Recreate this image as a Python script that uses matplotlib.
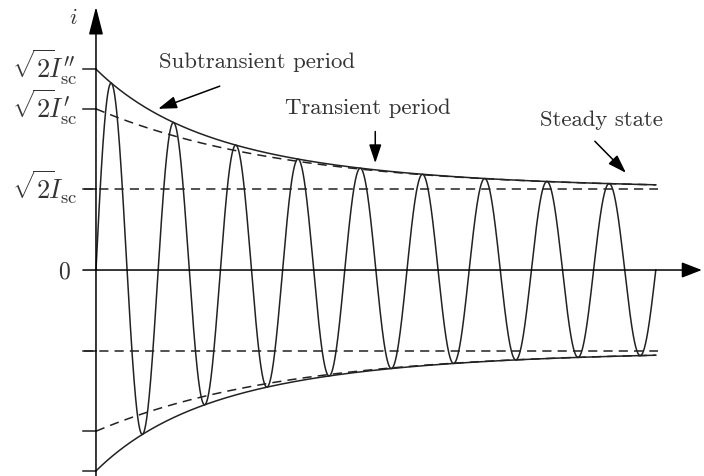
import numpy as np
import matplotlib.pyplot as plt

plt.rcParams['mathtext.fontset'] = 'cm'

# levels of the envelope, in units of the steady-state peak
I_sc = 1.0          # sqrt(2) I_sc
I_tr = 1.99         # sqrt(2) I'_sc
I_sub = 2.48        # sqrt(2) I''_sc
T_tr = 3.05         # transient time constant (periods)
T_sub = 1.14        # subtransient time constant (periods)
n_periods = 9

level_labels = [r'$\sqrt{2}\!I_{\rm sc}^{\prime\prime}$',
                r'$\sqrt{2}\!I_{\rm sc}^{\prime}$',
                r'$\sqrt{2}\!I_{\rm sc}$']
levels = [I_sub, I_tr, I_sc]

t = np.linspace(0, n_periods, 3000)
dashed_env = I_sc + (I_tr - I_sc) * np.exp(-t / T_tr)
solid_env = dashed_env + (I_sub - I_tr) * np.exp(-t / T_sub)
current = solid_env * np.sin(2 * np.pi * t)

fig = plt.figure(figsize=(7.04, 4.77), dpi=100)
ax = fig.add_axes([0, 0, 1, 1])
ax.set_xlim(-1.543, 9.775)
ax.set_ylim(-2.543, 3.346)
ax.axis('off')

lc = '#222222'
dash = (0, (6, 4))
t_end = n_periods + 0.03

# current and envelopes
ax.plot(t, current, color=lc, lw=1.1)
ax.plot(t, solid_env, color=lc, lw=1.1)
ax.plot(t, -solid_env, color=lc, lw=1.1)
ax.plot(t, dashed_env, color=lc, lw=1.1, linestyle=dash)
ax.plot(t, -dashed_env, color=lc, lw=1.1, linestyle=dash)
ax.plot([-0.2, t_end], [I_sc, I_sc], color=lc, lw=1.1, linestyle=dash)
ax.plot([-0.2, t_end], [-I_sc, -I_sc], color=lc, lw=1.1, linestyle=dash)

# tick stubs on the vertical axis
for lv in levels:
    ax.plot([-0.21, 0], [lv, lv], color=lc, lw=1.1)
    ax.plot([-0.21, 0], [-lv, -lv], color=lc, lw=1.1)

# axes with arrows
ax.annotate('', xy=(0, 3.25), xytext=(0, -2.55),
            arrowprops=dict(arrowstyle='-|>,head_length=0.86,head_width=0.22',
                            color='black', lw=1.1, mutation_scale=20,
                            shrinkA=0, shrinkB=0))
ax.annotate('', xy=(9.74, 0), xytext=(-0.21, 0),
            arrowprops=dict(arrowstyle='-|>,head_length=0.62,head_width=0.24',
                            color='black', lw=1.1, mutation_scale=20,
                            shrinkA=0, shrinkB=0))

# axis labels
tc = '#333333'
ax.text(-0.36, 3.12, r'$i$', fontsize=16, color=tc, ha='center', va='center')
for lab, lv in zip(level_labels, levels):
    ax.text(-0.29, lv + 0.03, lab, fontsize=19, color=tc, ha='right', va='center')
ax.text(-0.50, 0.0, r'$0$', fontsize=17, color=tc, ha='center', va='center')

# annotations
arrow_kw = dict(arrowstyle='-|>,head_length=0.75,head_width=0.25', color='black',
                lw=1.1, mutation_scale=15, shrinkA=0, shrinkB=0)
ax.text(2.59, 2.58, 'Subtransient period', fontsize=16.4, family='cmr10',
        color=tc, ha='center', va='center')
ax.annotate('', xy=(1.00, 1.99), xytext=(1.99, 2.27), arrowprops=arrow_kw)
ax.text(4.37, 2.01, 'Transient period', fontsize=16.4, family='cmr10',
        color=tc, ha='center', va='center')
ax.annotate('', xy=(4.49, 1.32), xytext=(4.49, 1.71), arrowprops=arrow_kw)
ax.text(8.13, 1.86, 'Steady state', fontsize=16.4, family='cmr10',
        color=tc, ha='center', va='center')
ax.annotate('', xy=(8.52, 1.20), xytext=(8.02, 1.59), arrowprops=arrow_kw)

fig.savefig('out.png', dpi=100)
